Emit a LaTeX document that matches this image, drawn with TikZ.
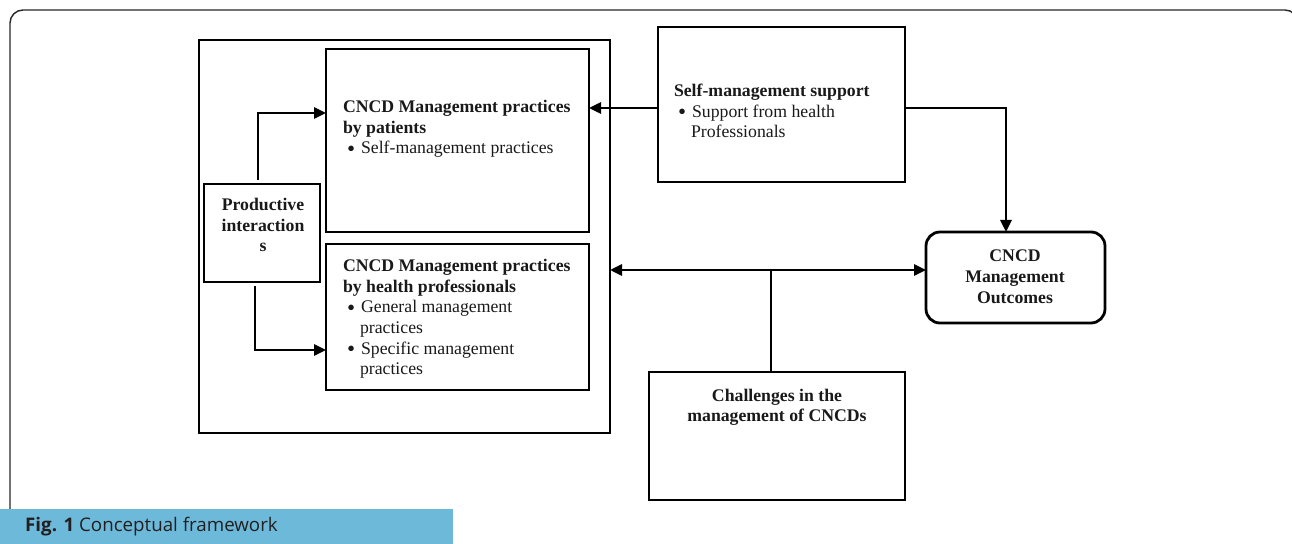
\documentclass[tikz,border=0pt]{standalone}
\usepackage{fontspec}
\setmainfont{Liberation Serif}
\newfontfamily\capfont{Open Sans}
\usetikzlibrary{arrows.meta}
\definecolor{capblue}{HTML}{6DB9DA}
\definecolor{captext}{HTML}{231F20}
\newcommand{\bul}{\hspace*{4bp}\raisebox{-2.5bp}{\scalebox{1.3}{\textbullet}}\hspace*{6bp}}
\begin{document}
\begin{tikzpicture}[x=1bp,y=-1bp,
  box/.style={draw=black, line width=2.8bp, inner sep=0pt, outer sep=0pt, rectangle},
  txt/.style={font=\fontsize{17.8}{20.8}\selectfont, inner sep=0pt, outer sep=0pt, text=black!90},
  arr/.style={line width=2.8bp, -{Triangle[length=12bp,width=11bp]}},
  dbl/.style={line width=2.8bp, {Triangle[length=12bp,width=11bp]}-{Triangle[length=12bp,width=11bp]}},
  plain/.style={line width=2.8bp},
]
\useasboundingbox (0,0) rectangle (1292,544);
% outer figure frame
\draw[line width=1.4bp, draw=black!85, rounded corners=13bp] (10,600) rectangle (1298,10);
% caption bar
\fill[capblue] (0,509) rectangle (453,544);
\node[anchor=west, inner sep=0pt, text=captext, font=\capfont\fontsize{18.8}{20}\selectfont] (cap) at (25,527) {\textbf{Fig. 1} Conceptual framework};

% boxes
\node[box, minimum width=411bp, minimum height=393bp] (big) at (404.5,236.5) {};
\node[box, minimum width=263bp, minimum height=183bp] (pat) at (457.5,140.5) {};
\node[box, minimum width=263bp, minimum height=146bp] (hp) at (457.5,317) {};
\node[box, minimum width=116bp, minimum height=98bp] (prod) at (262,233) {};
\node[box, minimum width=247bp, minimum height=155bp] (sms) at (781.5,104.5) {};
\node[box, rounded corners=14bp, minimum width=179bp, minimum height=91bp] (out) at (1015.5,277.5) {};
\node[box, minimum width=256bp, minimum height=128bp] (chal) at (777,436) {};

% texts
\node[txt, anchor=north west, align=left] (patt) at (343,100) {\textbf{CNCD Management practices}\\\textbf{by patients}\\\bul Self-management practices};
\node[txt, anchor=north west, align=left] (hpt) at (343,259) {\textbf{CNCD Management practices}\\\textbf{by health professionals}\\\bul General management\\\hspace*{17bp}practices\\\bul Specific management\\\hspace*{17bp}practices};
\node[txt, anchor=north, align=center, font=\fontsize{17.8}{20.8}\selectfont\bfseries] (prodt) at (263,198) {Productive\\interaction\\s};
\node[txt, anchor=north west, align=left] (smst) at (674,84) {\textbf{Self-management support}\\\bul Support from health\\\hspace*{17bp}Professionals};
\node[txt, anchor=north, align=center, font=\fontsize{17.8}{20.8}\selectfont\bfseries] (outt) at (1015,250) {CNCD\\Management\\Outcomes};
\node[txt, anchor=north, align=center, font=\fontsize{17.8}{20}\selectfont\bfseries] (chalt) at (777,389) {Challenges in the\\management of CNCDs};

% connectors
\draw[arr] ([xshift=-4bp,yshift=4bp]prod.north) |- ([yshift=27.5bp]pat.west);
\draw[arr] ([xshift=-7bp,yshift=-4bp]prod.south) |- ([yshift=-33bp]hp.west);
\draw[arr] ([yshift=-3.5bp]sms.west) -- ([yshift=-3.5bp]sms.west -| pat.east);
\draw[arr] ([yshift=-3.5bp]sms.east) -| ([xshift=-9.5bp]out.north);
\draw[dbl] ([yshift=-33.5bp]big.east) -- ([yshift=-33.5bp]big.east -| out.west) coordinate (dend);
\draw[plain] ([xshift=-6bp]chal.north) -- ([xshift=-6bp]chal.north |- dend);
\end{tikzpicture}
\end{document}
